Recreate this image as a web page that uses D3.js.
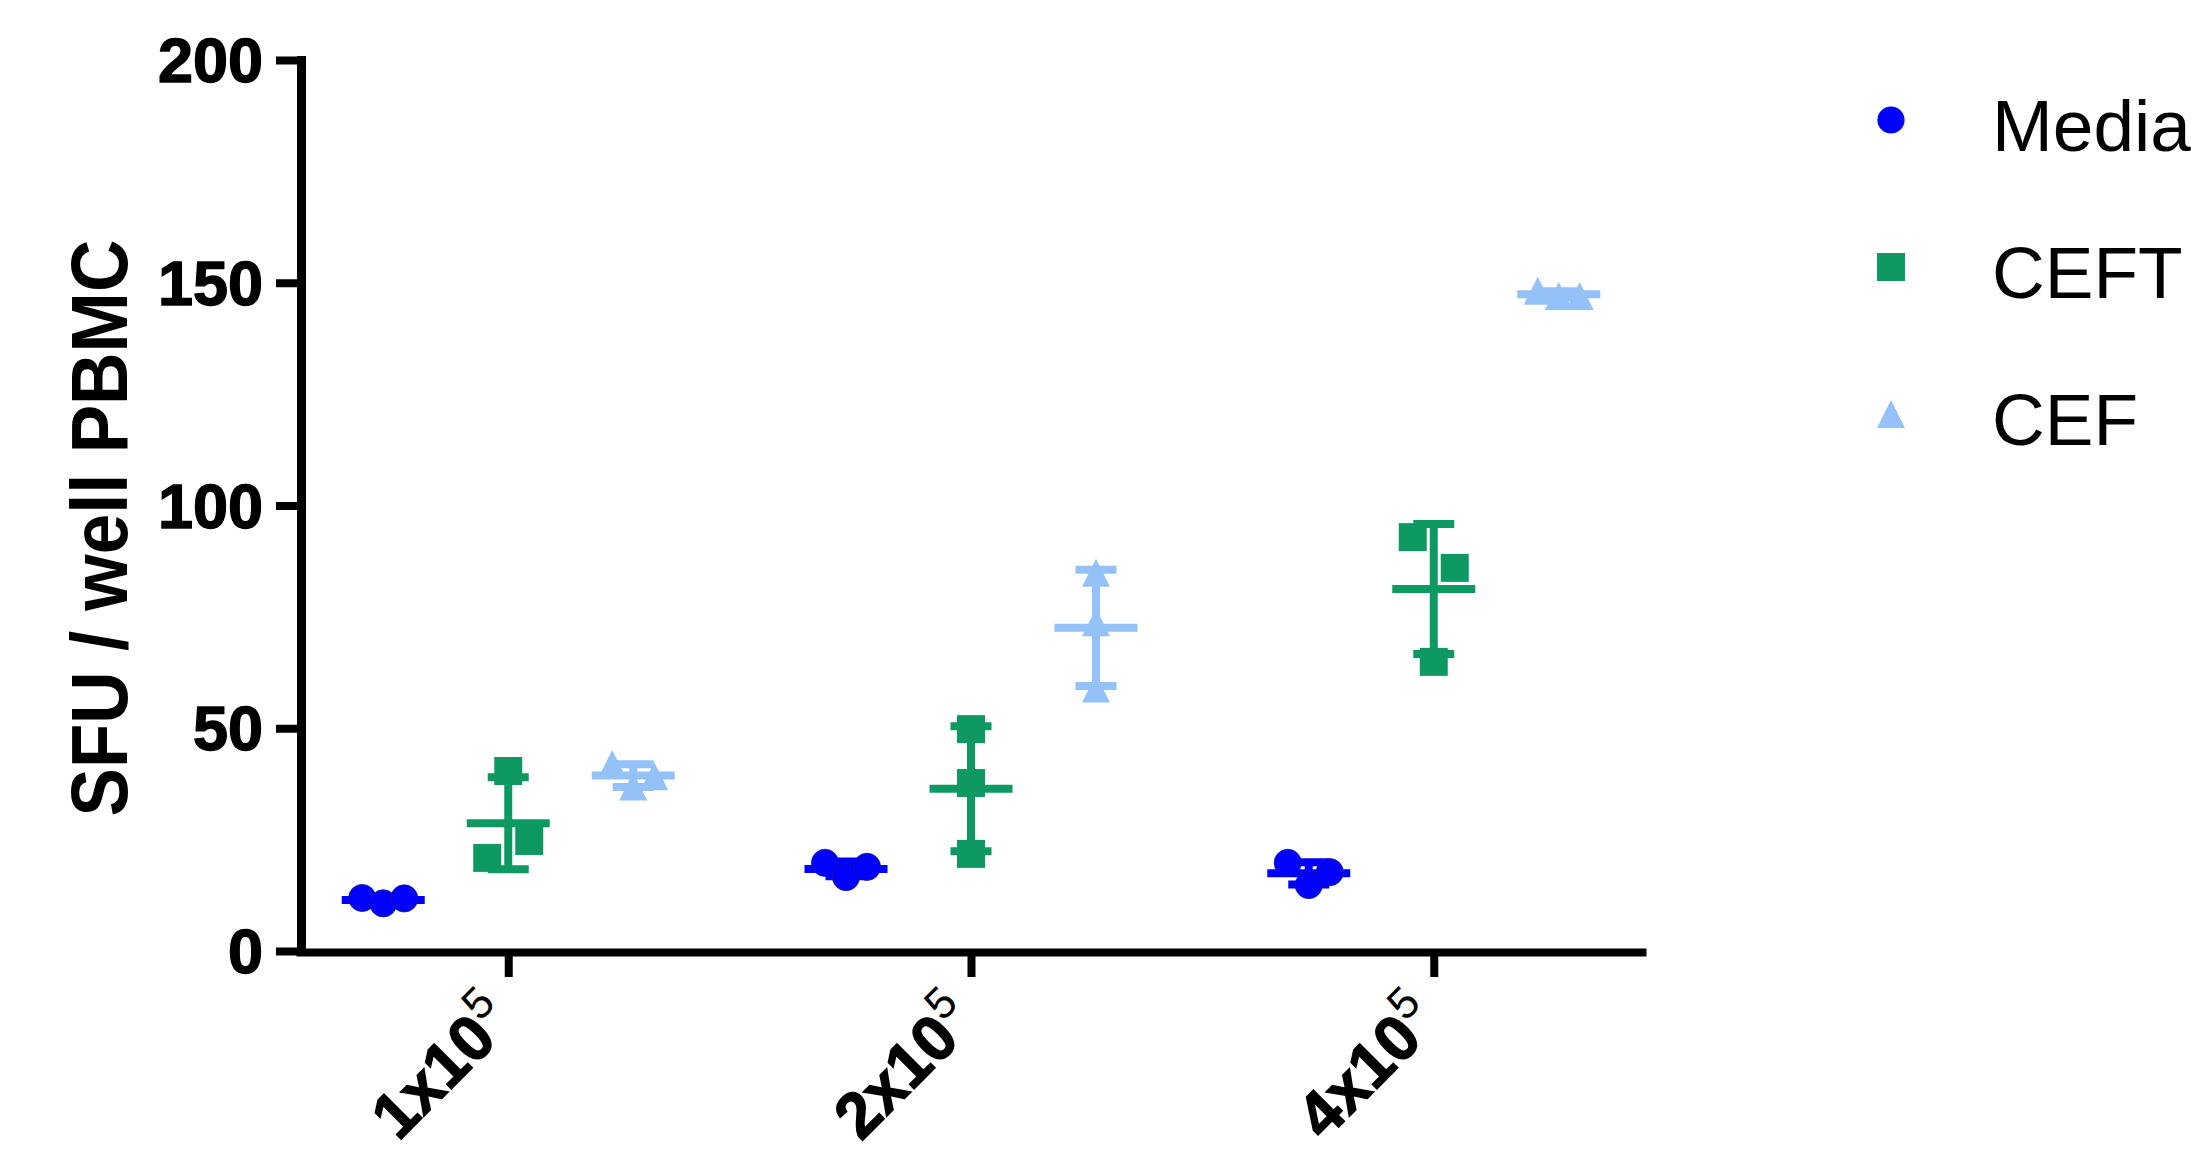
<!DOCTYPE html>
<html>
<head>
<meta charset="utf-8">
<script src="https://cdn.jsdelivr.net/npm/d3@7"></script>
<style>
  html, body { margin: 0; padding: 0; background: #fff; }
  svg { display: block; }
</style>
</head>
<body>
<svg id="chart" width="2191" height="1158"></svg>
<script>
const width = 2191;
const height = 1158;

// data
const categories = ["1x10^5", "2x10^5", "4x10^5"];
const seriesNames = ["Media", "CEFT", "CEF"];
const mediaValues = [[11.9, 10.7, 11.8], [19.8, 16.6, 18.9], [19.8, 14.8, 17.7]];
const ceftValues = [[20.9, 40.4, 24.7], [49.8, 37.7, 21.8], [92.9, 64.9, 86.0]];
const cefValues = [[42.0, 36.9, 39.2], [84.9, 73.8, 58.9], [148.2, 147.0, 147.0]];
const yTicks = [0, 50, 100, 150, 200];

const colors = { Media: "#0000ff", CEFT: "#0e9963", CEF: "#93c1f8" };
const seriesValues = { Media: mediaValues, CEFT: ceftValues, CEF: cefValues };

const svg = d3.select("#chart");

const x = d3.scalePoint()
    .domain(categories)
    .range([300, 1642])
    .padding(0.45);

const xSeries = d3.scalePoint()
    .domain(seriesNames)
    .range([-125, 125]);

const y = d3.scaleLinear()
    .domain([0, 200])
    .range([951, 60]);

const markSize = 28;
const spread = 21;

function markerPath(name) {
    if (name === "Media") return d3.symbol(d3.symbolCircle, Math.PI * 13.6 * 13.6)();
    if (name === "CEFT") return d3.symbol(d3.symbolSquare, markSize * markSize)();
    const h = markSize / 2;
    return `M0,${-h}L${h},${h}L${-h},${h}Z`;
}

// error bars (mean +/- SD) then points
const plot = svg.append("g");

seriesNames.forEach(name => {
    categories.forEach((cat, ci) => {
        const vals = seriesValues[name][ci];
        const cx = x(cat) + xSeries(name);
        const m = d3.mean(vals);
        const sd = d3.deviation(vals);
        const col = colors[name];

        plot.append("line")
            .attr("x1", cx).attr("x2", cx)
            .attr("y1", y(m - sd)).attr("y2", y(m + sd))
            .attr("stroke", col).attr("stroke-width", 8);

        [m - sd, m + sd].forEach(v => {
            plot.append("line")
                .attr("x1", cx - 20.5).attr("x2", cx + 20.5)
                .attr("y1", y(v)).attr("y2", y(v))
                .attr("stroke", col).attr("stroke-width", 8);
        });

        plot.append("line")
            .attr("x1", cx - 41.5).attr("x2", cx + 41.5)
            .attr("y1", y(m)).attr("y2", y(m))
            .attr("stroke", col).attr("stroke-width", 8);
    });
});

seriesNames.forEach(name => {
    categories.forEach((cat, ci) => {
        const vals = seriesValues[name][ci];
        const cx = x(cat) + xSeries(name);
        // spread the points sideways only when they would overlap
        const py = vals.map(v => y(v));
        let crowded = false;
        py.forEach((a, i) => py.forEach((b, j) => {
            if (i < j && Math.abs(a - b) < 35) crowded = true;
        }));

        plot.selectAll(null)
            .data(vals)
            .enter()
            .append("path")
            .attr("d", markerPath(name))
            .attr("transform", (d, i) => `translate(${cx + (crowded ? (i - 1) * spread : 0)},${y(d)})`)
            .attr("fill", colors[name])
            .attr("stroke", name === "Media" ? "#1a1a8c" : "none")
            .attr("stroke-width", name === "Media" ? 0.8 : 0);
    });
});

// y axis
const yAxis = svg.append("g")
    .attr("transform", "translate(301,0)")
    .call(d3.axisLeft(y).tickValues(yTicks).tickSize(25).tickSizeOuter(0).tickFormat(""));

yAxis.select(".domain").attr("stroke-width", 9).attr("stroke-linecap", "square");
yAxis.selectAll(".tick line").attr("stroke-width", 8);

yTicks.forEach(t => {
    svg.append("text")
       .attr("x", 263)
       .attr("y", y(t) + 22)
       .attr("text-anchor", "end")
       .attr("font-family", "Liberation Sans, Arial, sans-serif")
       .attr("font-weight", "bold")
       .attr("font-size", 63)
       .attr("stroke", "#000")
       .attr("stroke-width", 1.4)
       .text(t);
});

// x axis
const xAxis = svg.append("g")
    .attr("transform", "translate(0,952)")
    .call(d3.axisBottom(x).tickSize(25).tickSizeOuter(0).tickFormat(""));

xAxis.select(".domain").attr("stroke-width", 8).attr("stroke-linecap", "square");
xAxis.selectAll(".tick line").attr("stroke-width", 8);

categories.forEach(cat => {
    const [base, exp] = cat.split("^");
    const lab = svg.append("text")
        .attr("transform", `translate(${x(cat) + 8},1024) rotate(-45)`)
        .attr("text-anchor", "end")
        .attr("font-family", "Liberation Sans, Arial, sans-serif")
        .attr("font-size", 64);
    lab.append("tspan")
       .attr("font-weight", "bold")
       .attr("stroke", "#000")
       .attr("stroke-width", 1.4)
       .text(base);
    lab.append("tspan")
       .attr("font-size", 44)
       .attr("dy", -27)
       .text(exp);
});

// y axis title
svg.append("text")
   .attr("transform", "translate(127,528) rotate(-90)")
   .attr("text-anchor", "middle")
   .attr("font-family", "Liberation Sans, Arial, sans-serif")
   .attr("font-weight", "bold")
   .attr("font-size", 79)
   .attr("textLength", 577)
   .attr("lengthAdjust", "spacingAndGlyphs")
   .text("SFU / well PBMC");

// legend
const legendY = d3.scalePoint().domain(seriesNames).range([120, 414]);

seriesNames.forEach(name => {
    svg.append("path")
       .attr("d", markerPath(name))
       .attr("transform", `translate(1891,${legendY(name)})`)
       .attr("fill", colors[name]);

    svg.append("text")
       .attr("x", 1992)
       .attr("y", legendY(name) + 31)
       .attr("font-family", "Liberation Sans, Arial, sans-serif")
       .attr("font-size", 73)
       .attr("fill", "#000")
       .text(name);
});
</script>
</body>
</html>
